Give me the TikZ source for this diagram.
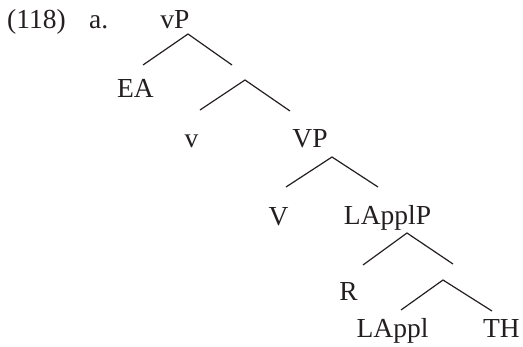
\documentclass[tikz,border=0pt]{standalone}
\usepackage{fontspec}
\setmainfont{Liberation Serif}
\definecolor{ink}{HTML}{231F20}
\begin{document}
\begin{tikzpicture}[x=1pt,y=-1pt,
  lab/.style={inner sep=0pt, anchor=base, text=ink, font=\fontsize{27.5}{30}\selectfont},
  edge/.style={draw=ink, line width=1.2pt}]
\useasboundingbox (0,0) rectangle (523,346);
% labels
\node[lab, anchor=base west] (num) at (7,28) {(118)};
\node[lab, anchor=base west] (let) at (89,28) {a.};
\node[lab] (vP) at (175,28) {vP};
\node[lab] (EA) at (135.5,97) {EA};
\node[lab] (v) at (191.5,147) {v};
\node[lab] (VP) at (310,147) {VP};
\node[lab] (V) at (278.5,225) {V};
\node[lab] (LApplP) at (387.5,224) {LApplP};
\node[lab] (R) at (348.5,300) {R};
\node[lab] (LAppl) at (392.5,337) {LAppl};
\node[lab] (TH) at (501.5,337) {TH};
% branch points
\coordinate (a1) at (188,34);  \coordinate (l1) at (143,65);  \coordinate (r1) at (232,65);
\coordinate (a2) at (245,80);  \coordinate (l2) at (200,110); \coordinate (r2) at (290,111);
\coordinate (a3) at (332,157); \coordinate (l3) at (286,187); \coordinate (r3) at (378,187);
\coordinate (a4) at (407,233); \coordinate (l4) at (363,265); \coordinate (r4) at (453,264);
\coordinate (a5) at (443,280); \coordinate (l5) at (401,310); \coordinate (r5) at (492,311);
\foreach \i in {1,...,5}{
  \draw[edge] (l\i) -- (a\i) -- (r\i);
}
\end{tikzpicture}
\end{document}
